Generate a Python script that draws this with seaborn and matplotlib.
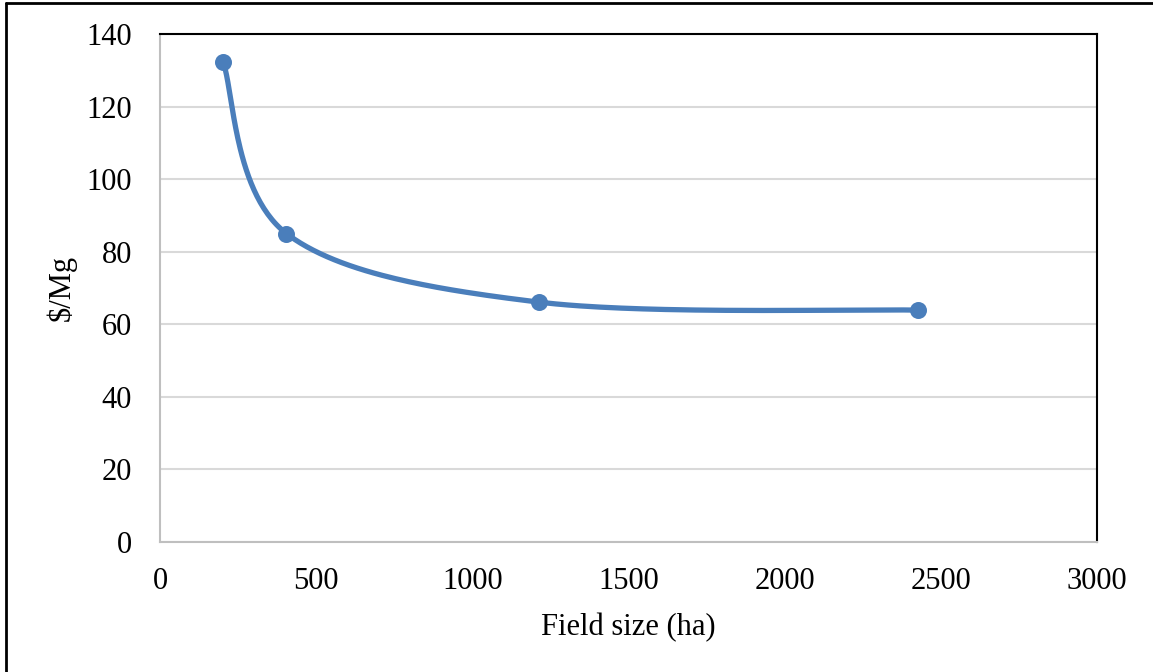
import numpy as np
import pandas as pd
import matplotlib
matplotlib.use("Agg")
import matplotlib.pyplot as plt
import seaborn as sns
from matplotlib.lines import Line2D

# Data
field_size = [202, 405, 1214, 2428]
cost = [132.3, 85.0, 66.1, 63.9]
x_ticks = [0, 500, 1000, 1500, 2000, 2500, 3000]
y_ticks = [0, 20, 40, 60, 80, 100, 120, 140]
x_label = "Field size (ha)"
y_label = "$/Mg"

sns.set_theme(style="white")
plt.rcParams['font.family'] = ['Liberation Serif', 'DejaVu Serif']
plt.rcParams['text.color'] = 'black'
plt.rcParams['axes.labelcolor'] = 'black'

W, H = 1153, 672
fig = plt.figure(figsize=(W / 100, H / 100), dpi=100)
ax = fig.add_axes([160 / W, 1 - 542 / H, (1097 - 160) / W, (542 - 34) / H])

xlim = (0, 3000)
ylim = (0, 140)
ax.set_xlim(xlim)
ax.set_ylim(ylim)

# Excel-style smoothed line (Bezier through points, computed in screen-proportional space)
axw = 1097 - 160
axh = 542 - 34
sx = axw / (xlim[1] - xlim[0])
sy = axh / (ylim[1] - ylim[0])
P = np.column_stack([np.array(field_size) * sx, np.array(cost) * sy])
n = len(P)
curve = []
t = np.linspace(0, 1, 60)
for i in range(n - 1):
    p0 = P[max(i - 1, 0)]
    p1 = P[i]
    p2 = P[i + 1]
    p3 = P[min(i + 2, n - 1)]
    c1 = p1 + (p2 - p0) / 6
    c2 = p2 - (p3 - p1) / 6
    seg = ((1 - t) ** 3)[:, None] * p1 + (3 * (1 - t) ** 2 * t)[:, None] * c1 \
        + (3 * (1 - t) * t ** 2)[:, None] * c2 + (t ** 3)[:, None] * p2
    if i > 0:
        seg = seg[1:]
    curve.append(seg)
curve = np.vstack(curve)
smooth = pd.DataFrame({"x": curve[:, 0] / sx, "y": curve[:, 1] / sy})
pts = pd.DataFrame({"x": field_size, "y": cost})

color = "#4A7EBB"
sns.lineplot(data=smooth, x="x", y="y", sort=False, ax=ax, color=color,
             linewidth=3.8, zorder=3, estimator=None)
sns.scatterplot(data=pts, x="x", y="y", ax=ax, color=color, s=150,
                edgecolor=color, linewidth=0, zorder=4)

ax.set_xticks(x_ticks)
ax.set_yticks(y_ticks)
ax.tick_params(axis="both", length=0, labelsize=22, colors="black")
ax.tick_params(axis="y", pad=20)
ax.tick_params(axis="x", pad=18)
ax.grid(axis="y", color="#D9D9D9", linewidth=1.5)
ax.grid(axis="x", visible=False)
ax.set_axisbelow(True)

ax.spines["left"].set_color("#BFBFBF")
ax.spines["bottom"].set_color("#BFBFBF")
ax.spines["top"].set_color("black")
ax.spines["right"].set_color("black")
for s in ax.spines.values():
    s.set_linewidth(1.5)
    s.set_visible(True)

ax.set_xlabel(x_label, fontsize=22, labelpad=12, color="black")
ax.set_ylabel(y_label, fontsize=22, labelpad=7, color="black")

# Outer frame (top and left edges)
fig.add_artist(Line2D([6 / W, 1], [1 - 2.5 / H, 1 - 2.5 / H], color="black", lw=2, transform=fig.transFigure))
fig.add_artist(Line2D([6 / W, 6 / W], [0, 1 - 2.5 / H], color="black", lw=2, transform=fig.transFigure))

fig.savefig("out.png", dpi=100, facecolor="white")
